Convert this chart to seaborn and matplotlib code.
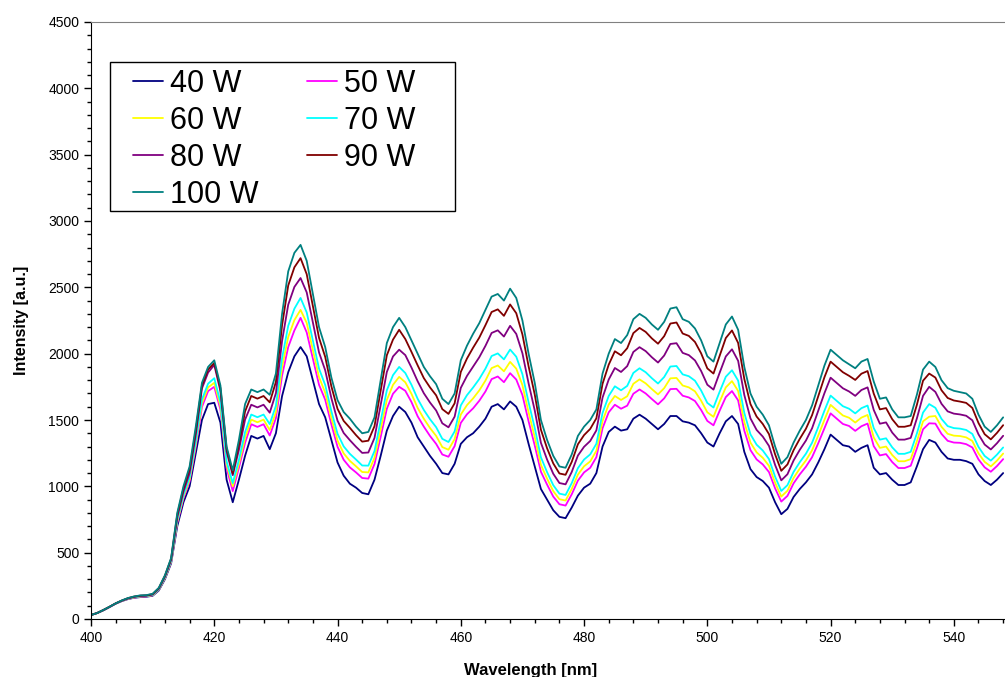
import numpy as np
import pandas as pd
import matplotlib
matplotlib.use("Agg")
import matplotlib.pyplot as plt
from matplotlib.patches import Rectangle
import seaborn as sns

wavelength = list(range(400, 549))

w40 = [30, 45, 65, 90, 115, 135, 150, 160, 165, 168,
       175, 215, 300, 420, 700, 880, 1000, 1250, 1500, 1620,
       1630, 1480, 1050, 880, 1050, 1230, 1380, 1360, 1380, 1280,
       1400, 1680, 1860, 1980, 2050, 1980, 1800, 1620, 1520, 1350,
       1180, 1080, 1020, 990, 950, 940, 1050, 1230, 1420, 1530,
       1600, 1560, 1480, 1370, 1300, 1230, 1170, 1100, 1090, 1170,
       1320, 1370, 1400, 1450, 1510, 1600, 1620, 1580, 1640, 1600,
       1500, 1320, 1150, 980, 900, 820, 770, 760, 840, 930,
       990, 1020, 1100, 1300, 1410, 1450, 1420, 1430, 1510, 1540,
       1510, 1470, 1430, 1470, 1530, 1530, 1490, 1480, 1460, 1400,
       1330, 1300, 1400, 1490, 1530, 1470, 1260, 1130, 1070, 1040,
       990, 880, 790, 830, 920, 980, 1030, 1090, 1180, 1280,
       1390, 1350, 1310, 1300, 1260, 1290, 1310, 1140, 1090, 1100,
       1050, 1010, 1010, 1030, 1150, 1280, 1350, 1330, 1260, 1210,
       1200, 1200, 1190, 1170, 1090, 1040, 1010, 1050, 1100]

w50 = [30, 45, 66, 90, 116, 136, 152, 162, 168, 171,
       179, 220, 308, 430, 725, 910, 1038, 1300, 1598, 1718,
       1750, 1578, 1138, 964, 1140, 1328, 1468, 1448, 1468, 1383,
       1513, 1835, 2050, 2175, 2270, 2160, 1963, 1765, 1653, 1468,
       1298, 1200, 1143, 1105, 1063, 1058, 1168, 1373, 1585, 1698,
       1750, 1720, 1635, 1528, 1450, 1380, 1320, 1240, 1223, 1303,
       1478, 1543, 1588, 1645, 1715, 1808, 1828, 1785, 1853, 1805,
       1688, 1490, 1308, 1110, 1013, 923, 865, 855, 940, 1043,
       1105, 1140, 1220, 1438, 1558, 1615, 1585, 1608, 1698, 1730,
       1700, 1658, 1618, 1663, 1733, 1735, 1683, 1670, 1643, 1575,
       1493, 1460, 1570, 1673, 1718, 1648, 1420, 1273, 1203, 1165,
       1108, 985, 885, 928, 1023, 1090, 1148, 1220, 1325, 1438,
       1550, 1510, 1470, 1455, 1418, 1453, 1473, 1303, 1233, 1243,
       1183, 1138, 1138, 1155, 1285, 1430, 1475, 1473, 1395, 1343,
       1330, 1328, 1318, 1293, 1203, 1143, 1110, 1153, 1205]

w60 = [30, 45, 66, 91, 116, 137, 153, 163, 170, 172,
       180, 222, 310, 434, 735, 922, 1052, 1320, 1626, 1746,
       1780, 1606, 1163, 1000, 1170, 1367, 1503, 1483, 1503, 1424,
       1558, 1897, 2126, 2253, 2330, 2232, 2028, 1823, 1706, 1515,
       1345, 1248, 1192, 1151, 1108, 1105, 1215, 1430, 1651, 1765,
       1825, 1784, 1697, 1591, 1510, 1440, 1380, 1296, 1276, 1356,
       1541, 1612, 1663, 1723, 1797, 1891, 1911, 1867, 1938, 1887,
       1763, 1558, 1371, 1162, 1058, 964, 903, 893, 980, 1088,
       1151, 1188, 1268, 1493, 1617, 1681, 1651, 1679, 1773, 1806,
       1776, 1733, 1693, 1740, 1814, 1817, 1760, 1746, 1716, 1645,
       1558, 1524, 1638, 1746, 1793, 1719, 1484, 1330, 1256, 1215,
       1155, 1027, 923, 967, 1064, 1134, 1195, 1272, 1383, 1501,
       1614, 1574, 1534, 1517, 1481, 1518, 1538, 1368, 1290, 1300,
       1236, 1189, 1189, 1205, 1339, 1490, 1525, 1530, 1449, 1396,
       1382, 1379, 1369, 1342, 1248, 1184, 1150, 1194, 1247]

w70 = [30, 45, 66, 91, 116, 137, 154, 165, 171, 174,
       182, 224, 314, 438, 746, 935, 1069, 1340, 1654, 1774,
       1815, 1634, 1188, 1024, 1200, 1409, 1541, 1521, 1541, 1469,
       1607, 1965, 2210, 2339, 2420, 2311, 2099, 1887, 1764, 1566,
       1396, 1301, 1245, 1202, 1157, 1156, 1266, 1492, 1724, 1838,
       1900, 1854, 1765, 1660, 1576, 1506, 1446, 1358, 1334, 1414,
       1610, 1687, 1745, 1809, 1887, 1982, 2002, 1957, 2031, 1977,
       1845, 1633, 1440, 1219, 1107, 1009, 945, 935, 1024, 1137,
       1202, 1241, 1321, 1553, 1681, 1754, 1724, 1757, 1855, 1890,
       1860, 1815, 1775, 1824, 1903, 1907, 1844, 1830, 1796, 1722,
       1629, 1594, 1713, 1826, 1875, 1797, 1554, 1392, 1314, 1270,
       1206, 1073, 965, 1009, 1109, 1182, 1246, 1329, 1447, 1570,
       1684, 1644, 1604, 1585, 1550, 1589, 1609, 1439, 1352, 1362,
       1294, 1245, 1245, 1260, 1398, 1556, 1620, 1592, 1508, 1454,
       1439, 1435, 1425, 1395, 1297, 1229, 1194, 1239, 1293]

w80 = [30, 45, 67, 91, 117, 138, 155, 167, 174, 176,
       185, 228, 320, 447, 767, 960, 1100, 1390, 1738, 1858,
       1915, 1718, 1263, 1084, 1275, 1503, 1615, 1595, 1615, 1555,
       1702, 2095, 2369, 2503, 2570, 2462, 2236, 2009, 1875, 1665,
       1495, 1402, 1348, 1298, 1252, 1255, 1365, 1612, 1862, 1979,
       2030, 1989, 1895, 1792, 1702, 1632, 1572, 1475, 1445, 1525,
       1742, 1832, 1903, 1973, 2059, 2156, 2176, 2129, 2210, 2149,
       2003, 1776, 1572, 1328, 1202, 1095, 1025, 1015, 1108, 1232,
       1298, 1342, 1422, 1669, 1805, 1892, 1862, 1906, 2013, 2049,
       2019, 1973, 1933, 1986, 2073, 2079, 2006, 1989, 1949, 1869,
       1766, 1729, 1856, 1979, 2033, 1946, 1689, 1512, 1425, 1375,
       1305, 1161, 1045, 1091, 1195, 1275, 1345, 1438, 1569, 1702,
       1819, 1779, 1739, 1715, 1682, 1726, 1746, 1576, 1472, 1482,
       1405, 1352, 1352, 1365, 1512, 1682, 1750, 1712, 1622, 1565,
       1548, 1542, 1532, 1498, 1392, 1315, 1278, 1325, 1381]

w90 = [30, 45, 68, 92, 118, 139, 157, 169, 176, 178,
       188, 232, 326, 454, 786, 983, 1129, 1420, 1760, 1880,
       1930, 1740, 1283, 1096, 1314, 1565, 1681, 1661, 1681, 1633,
       1787, 2213, 2514, 2651, 2720, 2599, 2359, 2119, 1976, 1754,
       1584, 1493, 1441, 1386, 1337, 1344, 1454, 1720, 1988, 2106,
       2180, 2110, 2013, 1912, 1816, 1746, 1686, 1582, 1546, 1626,
       1862, 1963, 2045, 2121, 2215, 2314, 2334, 2285, 2371, 2305,
       2145, 1905, 1692, 1427, 1287, 1173, 1097, 1087, 1184, 1317,
       1386, 1433, 1513, 1773, 1917, 2018, 1988, 2041, 2155, 2194,
       2164, 2115, 2075, 2132, 2227, 2235, 2152, 2134, 2088, 2002,
       1889, 1850, 1985, 2118, 2175, 2081, 1810, 1620, 1526, 1470,
       1394, 1241, 1117, 1165, 1273, 1358, 1434, 1537, 1679, 1822,
       1940, 1900, 1860, 1833, 1802, 1849, 1869, 1699, 1580, 1590,
       1506, 1449, 1449, 1460, 1614, 1796, 1850, 1820, 1724, 1666,
       1647, 1639, 1629, 1591, 1477, 1393, 1354, 1403, 1461]

w100 = [30, 45, 68, 92, 118, 140, 158, 170, 178, 180,
        190, 235, 330, 460, 800, 1000, 1150, 1450, 1780, 1900,
        1950, 1760, 1300, 1120, 1350, 1620, 1730, 1710, 1730, 1690,
        1850, 2300, 2620, 2760, 2820, 2700, 2450, 2200, 2050, 1820,
        1650, 1560, 1510, 1450, 1400, 1410, 1520, 1800, 2080, 2200,
        2270, 2200, 2100, 2000, 1900, 1830, 1770, 1660, 1620, 1700,
        1950, 2060, 2150, 2230, 2330, 2430, 2450, 2400, 2490, 2420,
        2250, 2000, 1780, 1500, 1350, 1230, 1150, 1140, 1240, 1380,
        1450, 1500, 1580, 1850, 2000, 2110, 2080, 2140, 2260, 2300,
        2270, 2220, 2180, 2240, 2340, 2350, 2260, 2240, 2190, 2100,
        1980, 1940, 2080, 2220, 2280, 2180, 1900, 1700, 1600, 1540,
        1460, 1300, 1170, 1220, 1330, 1420, 1500, 1610, 1760, 1910,
        2030, 1990, 1950, 1920, 1890, 1940, 1960, 1790, 1660, 1670,
        1580, 1520, 1520, 1530, 1690, 1880, 1940, 1900, 1800, 1740,
        1720, 1710, 1700, 1660, 1540, 1450, 1410, 1460, 1520]

series_labels = ["40 W", "50 W", "60 W", "70 W", "80 W", "90 W", "100 W"]
series_values = [w40, w50, w60, w70, w80, w90, w100]
series_colors = ["#000080", "#FF00FF", "#FFFF00", "#00FFFF",
                 "#800080", "#800000", "#008080"]

x_ticks = [400, 420, 440, 460, 480, 500, 520, 540]
y_ticks = [0, 500, 1000, 1500, 2000, 2500, 3000, 3500, 4000, 4500]

frames = []
for lab, vals in zip(series_labels, series_values):
    frames.append(pd.DataFrame({"Wavelength": wavelength,
                                "Intensity": vals,
                                "Series": lab}))
df = pd.concat(frames, ignore_index=True)

sns.set_style("ticks")
plt.rcParams["font.family"] = ["Liberation Sans", "DejaVu Sans"]
plt.rcParams["text.color"] = "black"
plt.rcParams["axes.labelcolor"] = "black"
plt.rcParams["xtick.color"] = "black"
plt.rcParams["ytick.color"] = "black"

W, H = 1005, 677
fig = plt.figure(figsize=(W / 100, H / 100), dpi=100)
ax = fig.add_axes([91 / W, 1 - 619 / H, 1 - 91 / W, (619 - 22) / H])

sns.lineplot(data=df, x="Wavelength", y="Intensity", hue="Series",
             hue_order=series_labels, palette=series_colors,
             linewidth=1.3, ax=ax, legend=True, estimator=None, sort=False)

ax.set_xlim(400, 548.3)
ax.set_ylim(0, 4500)
ax.set_xticks(x_ticks)
ax.set_yticks(y_ticks)
ax.set_xticks(np.arange(400, 549, 4), minor=True)
ax.set_yticks(np.arange(0, 4501, 100), minor=True)
ax.tick_params(axis="both", which="major", direction="out", length=5,
               width=1, labelsize=10, colors="black")
ax.tick_params(axis="both", which="minor", direction="out", length=3,
               width=1, colors="black")
ax.set_xlabel("Wavelength [nm]", fontsize=12, fontweight="bold",
              labelpad=13, color="black")
ax.set_ylabel("Intensity [a.u.]", fontsize=11.5, fontweight="bold",
              labelpad=14, color="black")
ax.xaxis.label.set_x((531 - 91) / (W - 91))

ax.spines["right"].set_visible(False)
ax.spines["top"].set_color("#808080")
ax.spines["left"].set_color("black")
ax.spines["bottom"].set_color("black")

# legend frame (drawn within the axes so the legend can sit on top)
ax.add_patch(Rectangle((110 / W, 1 - 211 / H), 345 / W, 149 / H,
                       transform=fig.transFigure, facecolor="white",
                       edgecolor="black", linewidth=1.0, zorder=5,
                       clip_on=False))

handles, labels = ax.get_legend_handles_labels()
hmap = dict(zip(labels, handles))
order = ["40 W", "60 W", "80 W", "100 W", "50 W", "70 W", "90 W"]
leg = ax.legend([hmap[k] for k in order], order, ncol=2, loc="upper left",
                bbox_to_anchor=(133 / W, 1 - 69 / H),
                bbox_transform=fig.transFigure, fontsize=22, frameon=False,
                handlelength=0.98, handletextpad=0.23, columnspacing=1.6,
                labelspacing=0.23, borderpad=0, borderaxespad=0)
leg.set_zorder(10)
for txt in leg.get_texts():
    txt.set_color("black")
for line in leg.get_lines():
    line.set_linewidth(1.3)

fig.savefig("out.png", dpi=100)
